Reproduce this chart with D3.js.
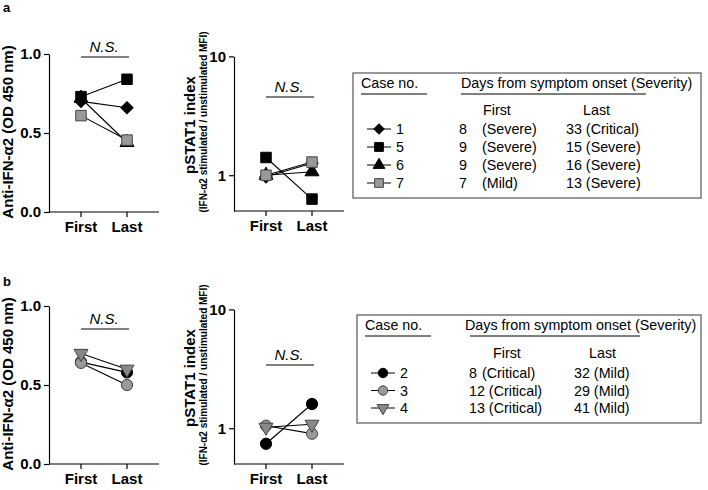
<!DOCTYPE html>
<html>
<head>
<meta charset="utf-8">
<script src="https://cdn.jsdelivr.net/npm/d3@7"></script>
<style>
  body { margin: 0; background: #fff; }
  text { font-family: "Liberation Sans", Arial, sans-serif; }
</style>
</head>
<body>
<div id="vis"></div>
<script>
// timepoints
let timepoints = ['First', 'Last'];

// panel a : cases 1, 5, 6, 7
let casesA = ['1', '5', '6', '7'];
let shapesA = ['diamond', 'square', 'triangle', 'square'];
let fillsA = ['#000', '#000', '#000', '#999'];
let odA = [[0.70, 0.66], [0.73, 0.84], [0.72, 0.44], [0.61, 0.455]];
let pstatA = [[0.97, 1.26], [1.41, 0.63], [1.0, 1.07], [1.0, 1.29]];
let firstA = ['8', '9', '9', '7'];
let firstSevA = ['(Severe)', '(Severe)', '(Severe)', '(Mild)'];
let lastA = ['33 (Critical)', '15 (Severe)', '16 (Severe)', '13 (Severe)'];

// panel b : cases 2, 3, 4
let casesB = ['2', '3', '4'];
let shapesB = ['circle', 'circle', 'triangleDown'];
let fillsB = ['#000', '#999', '#888'];
let odB = [[0.645, 0.58], [0.64, 0.50], [0.70, 0.60]];
let pstatB = [[0.74, 1.6], [1.05, 0.90], [1.02, 1.08]];
let firstB = ['8', '12', '13'];
let firstSevB = ['(Critical)', '(Critical)', '(Critical)'];
let lastB = ['32 (Mild)', '29 (Mild)', '41 (Mild)'];

let odTicks = [0, 0.5, 1.0];
let logTicks = [1, 10];

let svg = d3.select('#vis').append('svg')
  .attr('width', 708).attr('height', 490)
  .style('display', 'block');

function markerPath(shape, k) {
  let sym = {
    diamond: d3.symbol(d3.symbolSquare, 75 * k),
    square: d3.symbol(d3.symbolSquare, 110 * k),
    triangle: d3.symbol(d3.symbolTriangle, 85 * k),
    triangleDown: d3.symbol(d3.symbolTriangle, 85 * k),
    circle: d3.symbol(d3.symbolCircle, 100 * k)
  };
  return sym[shape]();
}

function drawMarker(g, shape, fill, x, y, k) {
  k = k || 1;
  let rot = shape == 'triangleDown' ? ' rotate(180)' : (shape == 'diamond' ? ' rotate(45)' : '');
  g.append('path')
    .attr('d', markerPath(shape, k))
    .attr('transform', 'translate(' + x + ',' + y + ')' + rot)
    .attr('fill', fill)
    .attr('stroke', fill == '#000' ? '#000' : '#444')
    .attr('stroke-width', 1);
}

// one small before/after panel
function drawPanel(opt) {
  let g = svg.append('g');
  let x = d3.scalePoint().domain(timepoints).range([opt.x0 + 32, opt.x0 + 78]);
  let y = opt.log
    ? d3.scaleLog().domain([0.5, 10]).range([opt.yBottom, opt.yBottom - 154.6])
    : d3.scaleLinear().domain([0, 1]).range([opt.yBottom, opt.yBottom - 158]);

  // y axis
  let yAxis = opt.log
    ? d3.axisLeft(y).tickValues(logTicks).tickFormat(d3.format('d'))
    : d3.axisLeft(y).tickValues(odTicks).tickFormat(d3.format('.1f'));
  let ya = g.append('g').attr('transform', 'translate(' + opt.x0 + ',0)')
    .call(yAxis.tickSize(5).tickSizeOuter(0));
  ya.selectAll('text').style('font-size', '15px').style('font-weight', 'bold').attr('fill', '#000');
  ya.selectAll('line,path').attr('stroke', '#000').attr('stroke-width', 1.2);

  // x axis
  let xa = g.append('g').attr('transform', 'translate(0,' + opt.yBottom + ')');
  xa.append('line').attr('x1', opt.x0).attr('x2', opt.x0 + 110)
    .attr('stroke', '#000').attr('stroke-width', 1.2);
  xa.selectAll('.tk').data(timepoints).enter().append('line')
    .attr('x1', d => x(d)).attr('x2', d => x(d)).attr('y1', 0).attr('y2', 5)
    .attr('stroke', '#000').attr('stroke-width', 1.2);
  xa.selectAll('.lb').data(timepoints).enter().append('text')
    .attr('x', d => x(d)).attr('y', 20).attr('text-anchor', 'middle')
    .style('font-size', '15px').style('font-weight', 'bold').text(d => d);

  // y label
  if (opt.log) {
    g.append('text')
      .attr('transform', 'translate(' + (opt.x0 - 39) + ',' + (opt.yBottom - 86) + ') rotate(-90)')
      .attr('text-anchor', 'middle').style('font-size', '15px').style('font-weight', 'bold')
      .text('pSTAT1 index');
    g.append('text')
      .attr('transform', 'translate(' + (opt.x0 - 27) + ',' + (opt.yBottom - 89) + ') rotate(-90)')
      .attr('text-anchor', 'middle').style('font-size', '10px').style('font-weight', 'bold')
      .text('(IFN-\u03b12 stimulated / unstimulated MFI)');
  } else {
    g.append('text')
      .attr('transform', 'translate(' + (opt.x0 - 36) + ',' + (opt.yBottom - 80) + ') rotate(-90)')
      .attr('text-anchor', 'middle').style('font-size', '15px').style('font-weight', 'bold')
      .text('Anti-IFN-\u03b12 (OD 450 nm)');
  }

  // N.S.
  g.append('line').attr('x1', x('First')).attr('x2', x('Last') + 2)
    .attr('y1', opt.nsY).attr('y2', opt.nsY).attr('stroke', '#000').attr('stroke-width', 1);
  g.append('text').attr('x', (x('First') + x('Last')) / 2).attr('y', opt.nsY - 5)
    .attr('text-anchor', 'middle').style('font-size', '15px').style('font-style', 'italic')
    .text('N.S.');

  // lines then markers
  opt.values.forEach(function(v) {
    g.append('line')
      .attr('x1', x('First')).attr('y1', y(v[0]))
      .attr('x2', x('Last')).attr('y2', y(v[1]))
      .attr('stroke', '#000').attr('stroke-width', 1.1);
  });
  opt.values.forEach(function(v, i) {
    drawMarker(g, opt.shapes[i], opt.fills[i], x('First'), y(v[0]));
    drawMarker(g, opt.shapes[i], opt.fills[i], x('Last'), y(v[1]));
  });
}

function drawLegend(opt) {
  let g = svg.append('g');
  g.append('rect').attr('x', opt.x).attr('y', opt.y).attr('width', opt.w).attr('height', opt.h)
    .attr('fill', 'none').attr('stroke', '#555').attr('stroke-width', 1.2);
  let fs = '14.3px';
  g.append('text').attr('x', opt.x + 8).attr('y', opt.y + 15).style('font-size', fs).text('Case no.');
  g.append('line').attr('x1', opt.x + 8).attr('x2', opt.x + 74)
    .attr('y1', opt.y + 21).attr('y2', opt.y + 21).attr('stroke', '#000');
  g.append('text').attr('x', opt.x + 108).attr('y', opt.y + 15).style('font-size', fs)
    .text('Days from symptom onset (Severity)');
  g.append('line').attr('x1', opt.x + opt.ulX1).attr('x2', opt.x + opt.ulX2)
    .attr('y1', opt.y + 21).attr('y2', opt.y + 21).attr('stroke', '#000');
  g.append('text').attr('x', opt.firstX).attr('y', opt.y + opt.headY).style('font-size', fs).text('First');
  g.append('text').attr('x', opt.lastHX).attr('y', opt.y + opt.headY).style('font-size', fs).text('Last');

  opt.cases.forEach(function(c, i) {
    let by = opt.y + opt.row0 + i * opt.rowH;
    let my = by - 5;
    g.append('line').attr('x1', opt.x + 14).attr('x2', opt.x + 38)
      .attr('y1', my).attr('y2', my).attr('stroke', '#000');
    drawMarker(g, opt.shapes[i], opt.fills[i], opt.x + 26, my, 0.7);
    g.append('text').attr('x', opt.x + 43).attr('y', by).style('font-size', fs).text(c);
    // single-digit day numbers keep a wide gap before the severity
    if (opt.first[i].length == 1) {
      g.append('text').attr('x', opt.numX).attr('y', by).style('font-size', fs).text(opt.first[i]);
      g.append('text').attr('x', opt.sevX).attr('y', by).style('font-size', fs).text(opt.firstSev[i]);
    } else {
      g.append('text').attr('x', opt.numX).attr('y', by).style('font-size', fs)
        .text(opt.first[i] + ' ' + opt.firstSev[i]);
    }
    g.append('text').attr('x', opt.lastX).attr('y', by).style('font-size', fs).text(opt.last[i]);
  });
}

// panel labels
svg.append('text').attr('x', 3).attr('y', 12).style('font-size', '13px').style('font-weight', 'bold').text('a');
svg.append('text').attr('x', 3).attr('y', 286).style('font-size', '13px').style('font-weight', 'bold').text('b');

drawPanel({ x0: 49, yBottom: 212, log: false, values: odA, shapes: shapesA, fills: fillsA, nsY: 57 });
drawPanel({ x0: 234, yBottom: 211, log: true, values: pstatA, shapes: shapesA, fills: fillsA, nsY: 97 });
drawPanel({ x0: 49, yBottom: 464, log: false, values: odB, shapes: shapesB, fills: fillsB, nsY: 329 });
drawPanel({ x0: 234, yBottom: 464, log: true, values: pstatB, shapes: shapesB, fills: fillsB, nsY: 365 });

drawLegend({ x: 353, y: 73, w: 348, h: 125, cases: casesA, shapes: shapesA, fills: fillsA,
  first: firstA, firstSev: firstSevA, last: lastA, ulX1: 108, ulX2: 293,
  headY: 42, firstX: 483, lastHX: 583, row0: 61, rowH: 18, numX: 459, sevX: 482, lastX: 566 });
drawLegend({ x: 357, y: 315, w: 344, h: 108, cases: casesB, shapes: shapesB, fills: fillsB,
  first: firstB, firstSev: firstSevB, last: lastB, ulX1: 113, ulX2: 283,
  headY: 43, firstX: 493, lastHX: 589, row0: 63, rowH: 17.5, numX: 469, sevX: 482, lastX: 574 });
</script>
</body>
</html>
